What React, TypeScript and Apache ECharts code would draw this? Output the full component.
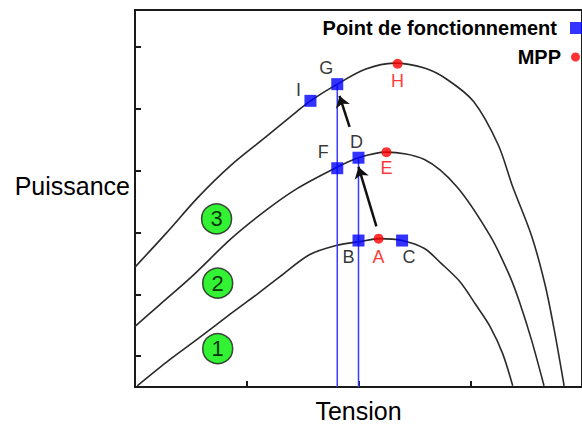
import React, { useEffect, useRef } from 'react';
import * as echarts from 'echarts';

// Curve 1 (lowest irradiance)
const curve1X = [0.02, 0.28, 0.57, 0.86, 1.10, 1.30, 1.56, 1.80, 2.00, 2.19, 2.39, 2.59, 2.74, 2.91, 3.05, 3.18, 3.29, 3.38];
const curve1Y = [0.02, 0.40, 0.79, 1.19, 1.51, 1.79, 2.14, 2.29, 2.35, 2.40, 2.37, 2.24, 2.00, 1.70, 1.33, 0.97, 0.54, 0.02];
// Curve 2
const curve2X = [0.00, 0.22, 0.51, 0.86, 1.18, 1.45, 1.79, 2.00, 2.25, 2.59, 2.88, 3.18, 3.35, 3.44, 3.55, 3.66];
const curve2Y = [0.98, 1.33, 1.79, 2.40, 2.87, 3.21, 3.54, 3.71, 3.80, 3.68, 3.24, 2.44, 1.81, 1.38, 0.75, 0.02];
// Curve 3 (highest irradiance)
const curve3X = [0.00, 0.28, 0.57, 0.86, 1.16, 1.45, 1.57, 1.81, 2.06, 2.32, 2.59, 2.79, 3.03, 3.25, 3.38, 3.55, 3.67, 3.75, 3.84];
const curve3Y = [1.94, 2.49, 3.08, 3.59, 4.03, 4.46, 4.63, 4.90, 5.14, 5.24, 5.16, 4.98, 4.62, 3.92, 3.24, 2.44, 1.65, 0.94, 0.02];

// Operating points (blue squares)
const opNames = ['I', 'G', 'F', 'D', 'B', 'C'];
const opX = [1.57, 1.81, 1.81, 2.00, 2.00, 2.39];
const opY = [4.63, 4.90, 3.54, 3.71, 2.37, 2.37];

// Maximum power points (red dots)
const mppNames = ['H', 'E', 'A'];
const mppX = [2.35, 2.25, 2.18];
const mppY = [5.23, 3.80, 2.40];

// Curve number badges
const badgeLabels = ['1', '2', '3'];
const badgeX = [0.74, 0.74, 0.73];
const badgeY = [0.62, 1.68, 2.72];

// Arrows (from -> to)
const arrowFromX = [2.16, 1.92];
const arrowFromY = [2.60, 4.21];
const arrowToX = [2.00, 1.83];
const arrowToY = [3.56, 4.71];

// Axis ticks
const xTickInterval = 1;
const yTickValues = [0.5, 1.5, 2.5, 3.5, 4.5, 5.5];

const FONT = '"Liberation Sans", Arial, sans-serif';

const labelOffsets: Record<string, [number, number]> = {
  I: [-12, -11], G: [-11, -16], F: [-14, -16], D: [-2, -16], B: [-10, 16], C: [7, 16],
  H: [0, 17], E: [0, 16], A: [0, 18],
};

const zip = (xs: number[], ys: number[]) => xs.map((x, i) => [x, ys[i]]);

export default function App() {
  const ref = useRef<HTMLDivElement>(null);
  useEffect(() => {
    if (!ref.current) return;
    const chart = echarts.init(ref.current, undefined, { renderer: 'svg' });
    const curveStyle = { color: '#2a2a2a', width: 1.6 };
    const guideIdx = [1, 3];
    const option: any = {
      animation: false,
      backgroundColor: '#ffffff',
      grid: { left: 135, width: 456, top: 10, bottom: 34.5, show: true, borderColor: '#1a1a1a', borderWidth: 2 },
      legend: [
        {
          data: [{ name: 'Point de fonctionnement', icon: 'rect' }],
          right: 0, top: 18, padding: 0, itemWidth: 12, itemHeight: 12, align: 'right', selectedMode: false,
          textStyle: { fontSize: 20, fontWeight: 'bold', color: '#000', fontFamily: FONT, padding: [0, 8, 0, 0] },
        },
        {
          data: [{ name: 'MPP', icon: 'circle' }],
          right: 2, top: 47, padding: 0, itemWidth: 9, itemHeight: 9, align: 'right', selectedMode: false,
          textStyle: { fontSize: 20, fontWeight: 'bold', color: '#000', fontFamily: FONT, padding: [0, 5, 0, 0] },
        },
      ],
      xAxis: {
        type: 'value', min: 0, max: 4, interval: xTickInterval,
        axisLine: { show: true, lineStyle: { color: '#1a1a1a', width: 2 } },
        axisTick: { show: true, inside: true, length: 6, lineStyle: { color: '#1a1a1a', width: 2 } },
        axisLabel: { show: false }, splitLine: { show: false },
        name: 'Tension', nameLocation: 'middle', nameGap: 11,
        nameTextStyle: { fontSize: 25, color: '#000', fontFamily: FONT },
      },
      yAxis: {
        type: 'value', min: 0, max: 6.1,
        axisLine: { show: true, lineStyle: { color: '#1a1a1a', width: 2 } },
        axisTick: { show: true, inside: true, length: 6, customValues: yTickValues, lineStyle: { color: '#1a1a1a', width: 2 } },
        axisLabel: { show: false }, splitLine: { show: false },
        name: 'Puissance', nameLocation: 'middle', nameRotate: 0, nameGap: 5,
        nameTextStyle: { fontSize: 25, color: '#000', fontFamily: FONT, verticalAlign: 'bottom', lineHeight: 26 },
      },
      series: [
        ...[zip(curve1X, curve1Y), zip(curve2X, curve2Y), zip(curve3X, curve3Y)].map((d, i) => ({
          name: 'Courbe ' + (i + 1), type: 'line', data: d, smooth: 0.3, showSymbol: false, symbol: 'none',
          lineStyle: curveStyle, silent: true, z: 2,
        })),
        ...guideIdx.map((k) => ({
          name: 'guide ' + opNames[k], type: 'line', data: [[opX[k], 0], [opX[k], opY[k]]],
          showSymbol: false, symbol: 'none', lineStyle: { color: '#3b3bff', width: 1.5 }, silent: true, z: 3,
        })),
        {
          name: 'arrows', type: 'lines', coordinateSystem: 'cartesian2d', z: 4,
          symbol: ['none', 'arrow'], symbolSize: [8, 11],
          lineStyle: { color: '#111', width: 2.5, opacity: 1 },
          data: arrowFromX.map((x, i) => ({ coords: [[x, arrowFromY[i]], [arrowToX[i], arrowToY[i]]] })),
        },
        {
          name: 'Point de fonctionnement', type: 'scatter', symbol: 'rect', symbolSize: 12, z: 6,
          itemStyle: { color: '#0000ff' },
          data: opNames.map((n, i) => ({
            value: [opX[i], opY[i]], name: n,
            label: { show: true, formatter: n, position: 'inside', offset: labelOffsets[n], fontSize: 18, color: '#000', fontFamily: FONT },
          })),
        },
        {
          name: 'MPP', type: 'scatter', symbol: 'circle', symbolSize: 10, z: 6,
          itemStyle: { color: '#ff0000' },
          data: mppNames.map((n, i) => ({
            value: [mppX[i], mppY[i]], name: n,
            label: { show: true, formatter: n, position: 'inside', offset: labelOffsets[n], fontSize: 18, color: '#ff0000', fontFamily: FONT },
          })),
        },
        {
          name: 'badges', type: 'scatter', symbol: 'circle', symbolSize: 30, z: 5,
          itemStyle: { color: '#00ee00', borderColor: '#1a1a1a', borderWidth: 1.5 },
          label: { show: true, position: 'inside', formatter: (p: any) => p.name, fontSize: 22, color: '#000', fontFamily: FONT },
          data: badgeLabels.map((n, i) => ({ value: [badgeX[i], badgeY[i]], name: n })),
        },
      ],
    };
    chart.setOption(option);
    return () => chart.dispose();
  }, []);
  return <div ref={ref} style={{ position: 'fixed', left: 0, top: 0, width: 582, height: 428, background: '#fff' }} />;
}
